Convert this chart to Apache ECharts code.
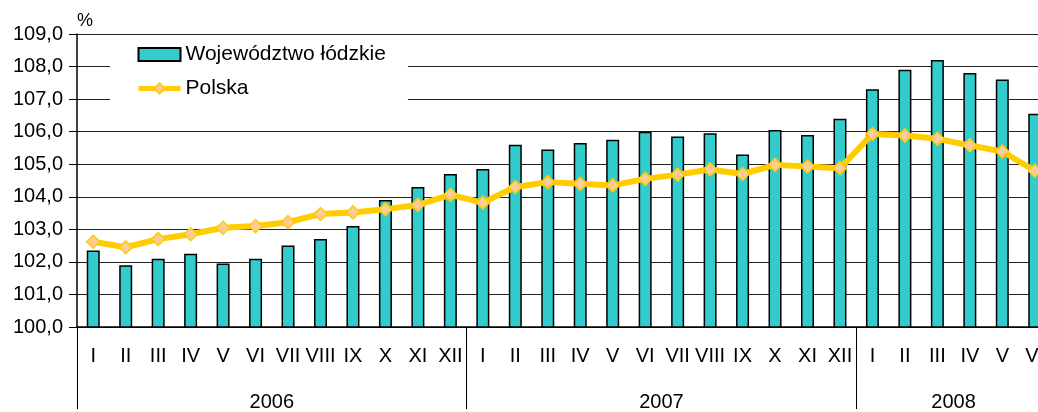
<!DOCTYPE html>
<html>
<head>
<meta charset="utf-8">
<script src="https://cdn.jsdelivr.net/npm/echarts@6/dist/echarts.min.js"></script>
<style>
  html, body { margin: 0; padding: 0; background: #fff; overflow: hidden; }
  /* wykres szerszy niż okno - ostatni miesiąc ucięty jak w oryginale */
  #chart { width: 1052px; height: 412px; }
</style>
</head>
<body>
<div id="chart"></div>
<script>
// miesiące na osi
const months = [
  'I', 'II', 'III', 'IV', 'V', 'VI', 'VII', 'VIII', 'IX', 'X', 'XI', 'XII',
  'I', 'II', 'III', 'IV', 'V', 'VI', 'VII', 'VIII', 'IX', 'X', 'XI', 'XII',
  'I', 'II', 'III', 'IV', 'V', 'VI'
];
const years = ['2006', '2007', '2008'];
const monthsPerYear = [12, 12, 6];

// Województwo łódzkie (słupki)
const lodzkie = [
  102.35, 101.9, 102.1, 102.25, 101.95, 102.1, 102.5, 102.7, 103.1, 103.9, 104.3, 104.7,
  104.85, 105.6, 105.45, 105.65, 105.75, 106.0, 105.85, 105.95, 105.3, 106.05, 105.9, 106.4,
  107.3, 107.9, 108.2, 107.8, 107.6, 106.55
];
// Polska (linia)
const polska = [
  102.62, 102.45, 102.7, 102.85, 103.05, 103.1, 103.22, 103.47, 103.52, 103.62, 103.75, 104.06,
  103.82, 104.3, 104.45, 104.4, 104.35, 104.55, 104.68, 104.84, 104.7, 104.98, 104.93, 104.88,
  105.93, 105.88, 105.78, 105.58, 105.39, 104.8
];

const font = 'Liberation Sans, Arial, sans-serif';

// oś lat: półmiesięczne pozycje, etykieta na środku roku
const yearSlots = new Array(months.length * 2 + 1).fill('');
const yearBounds = [];
let start = 0;
years.forEach((y, i) => {
  yearBounds.push(start * 2);
  yearSlots[start * 2 + monthsPerYear[i]] = y;
  start += monthsPerYear[i];
});

const myChart = echarts.init(document.getElementById('chart'));
const option = {
  animation: false,
  backgroundColor: '#fff',
  textStyle: { fontFamily: font },
  grid: { left: 77, top: 34, width: 974, height: 296 },
  legend: {
    orient: 'vertical',
    left: 110,
    top: 37,
    padding: [7, 22, 8, 26],
    itemGap: 13,
    itemWidth: 42,
    itemHeight: 13,
    backgroundColor: '#fff',
    textStyle: { fontSize: 21, color: '#000', fontFamily: font },
    data: [
      { name: 'Województwo łódzkie', icon: 'rect' },
      { name: 'Polska', lineStyle: { width: 5 } }
    ]
  },
  xAxis: [
    {
      type: 'category',
      position: 'bottom',
      data: months,
      axisLine: { lineStyle: { color: '#000', width: 1.5 } },
      axisTick: { alignWithLabel: true, interval: 0, length: 5, lineStyle: { color: '#000' } },
      axisLabel: { interval: 0, fontSize: 20, color: '#000', margin: 19, fontFamily: font }
    },
    {
      type: 'category',
      position: 'bottom',
      data: months,
      axisLine: { show: false },
      axisTick: { interval: 0, length: 46, lineStyle: { color: '#000' } },
      axisLabel: { show: false }
    },
    {
      type: 'category',
      position: 'bottom',
      boundaryGap: false,
      data: yearSlots,
      axisLine: { show: false },
      axisTick: {
        interval: (idx) => yearBounds.includes(idx),
        length: 82,
        lineStyle: { color: '#000' }
      },
      axisLabel: {
        interval: (idx, val) => val !== '',
        fontSize: 20,
        color: '#000',
        margin: 65,
        fontFamily: font
      }
    }
  ],
  yAxis: {
    type: 'value',
    min: 100,
    max: 109,
    interval: 1,
    name: '%',
    nameLocation: 'end',
    nameGap: 4,
    nameTextStyle: { fontSize: 18, color: '#000', align: 'left', fontFamily: font },
    axisLine: { show: true, lineStyle: { color: '#000', width: 1.5 } },
    axisTick: { show: true, length: 8, lineStyle: { color: '#000' } },
    axisLabel: {
      fontSize: 20,
      color: '#000',
      margin: 14,
      fontFamily: font,
      formatter: (v) => v.toFixed(1).replace('.', ',')
    },
    splitLine: { lineStyle: { color: '#222', width: 1 } }
  },
  series: [
    {
      name: 'Województwo łódzkie',
      type: 'bar',
      barWidth: 13,
      data: lodzkie,
      itemStyle: { color: '#33CCCC', borderColor: '#000', borderWidth: 1.5 }
    },
    {
      name: 'Polska',
      type: 'line',
      data: polska,
      z: 5,
      symbol: 'diamond',
      symbolSize: 13,
      lineStyle: { color: '#FFCC00', width: 6 },
      itemStyle: { color: '#FFCC99', borderColor: '#FFCC00', borderWidth: 1.5 }
    }
  ]
};
myChart.setOption(option);
</script>
</body>
</html>
